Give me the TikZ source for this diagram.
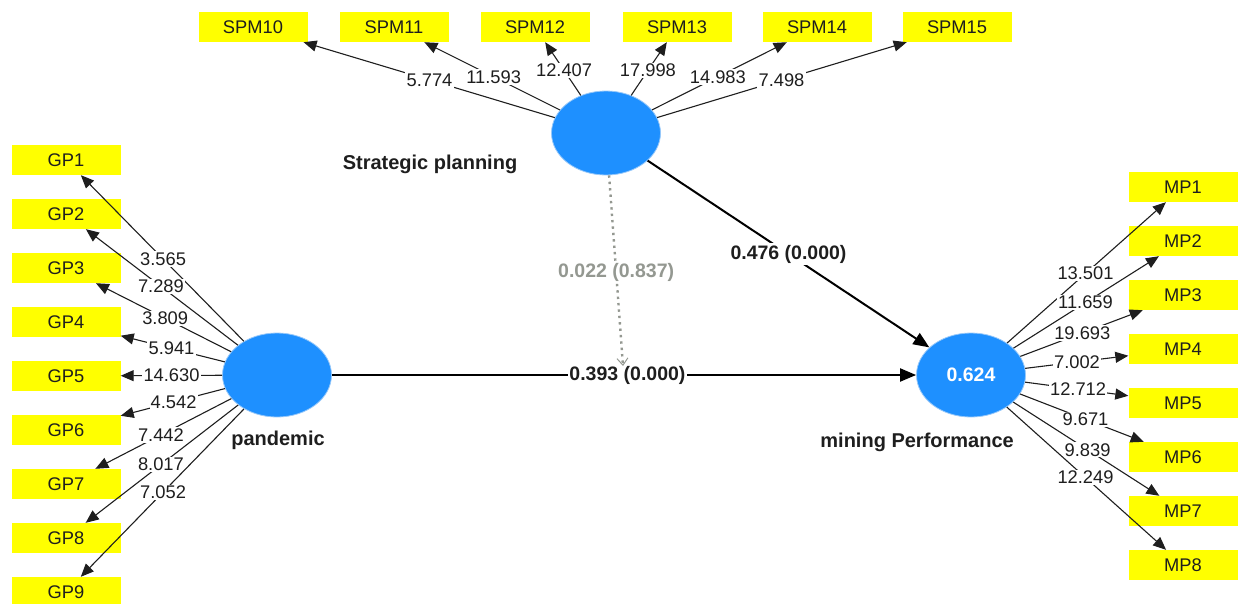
\documentclass[tikz,border=0pt]{standalone}
\usepackage{fontspec}
\setmainfont{Liberation Sans}
\usetikzlibrary{arrows.meta,calc,shapes.geometric}
\definecolor{lvblue}{RGB}{30,144,255}
\definecolor{lvring}{RGB}{150,200,250}
\definecolor{indyel}{RGB}{255,255,0}
\definecolor{txt}{RGB}{30,30,30}
\definecolor{modgray}{RGB}{148,152,145}
\begin{document}
\begin{tikzpicture}[x=1pt,y=-1pt,
  lv/.style={ellipse, fill=lvblue, draw=lvring, line width=0.8pt, minimum width=109pt, minimum height=84pt, inner sep=0pt, text=white, font=\fontsize{19.5}{21}\selectfont\bfseries},
  ind/.style={rectangle, fill=indyel, minimum width=109pt, minimum height=30pt, inner sep=0pt, font=\fontsize{18.3}{20}\selectfont, text=txt},
  load/.style={draw=txt, line width=1.1pt, -{Triangle[length=13pt,width=11pt]}},
  lbl/.style={fill=white, inner sep=1.2pt, font=\fontsize{18.3}{20}\selectfont, text=txt},
  structline/.style={draw=black, line width=2pt, -{Triangle[length=16pt,width=13pt]}},
  slbl/.style={fill=white, inner sep=1.5pt, font=\fontsize{19.5}{21}\selectfont\bfseries, text=txt},
  modline/.style={draw=modgray, line width=2.4pt, dash pattern=on 2.4pt off 4pt, -{Straight Barb[length=7pt,width=11pt,line width=1pt]}},
  mlbl/.style={fill=white, inner sep=1.5pt, font=\fontsize{19.5}{21}\selectfont\bfseries, text=modgray},
  lvname/.style={font=\fontsize{20}{22}\selectfont\bfseries, text=txt, inner sep=0pt}
]
\useasboundingbox (0,0) rectangle (1245,603);

% latent variables
\node[lv] (sp) at (606,133) {};
\node[lv] (pan) at (277,375) {};
\node[lv] (mip) at (971,375) {0.624};

\node[lvname] (spname) at (430,164) {Strategic planning};
\node[lvname] (panname) at (278,440) {pandemic};
\node[lvname, anchor=east] (mipname) at (1014,442) {mining Performance};

% indicators
\foreach \n/\x in {10/253,11/394,12/535,13/677,14/817,15/957}
  \node[ind] (spm\n) at (\x,27) {SPM\n};
\foreach \i in {1,...,9}
  \node[ind] (gp\i) at (66,{160+54*(\i-1)}) {GP\i};
\foreach \i in {1,...,8}
  \node[ind] (mp\i) at (1183,{187+54*(\i-1)}) {MP\i};

% outer loadings
\foreach \n/\v/\t in {10/5.774/0.5,11/11.593/0.53,12/12.407/0.59,13/17.998/0.59,14/14.983/0.53,15/7.498/0.5}{
  \draw[load] (sp) -- (spm\n);
  \node[lbl] (lspm\n) at ($(sp)!\t!(spm\n)$) {\v};
}
\foreach \n/\v/\t in {1/3.565/0.54,2/7.289/0.55,3/3.809/0.53,4/5.941/0.5,5/14.630/0.5,6/4.542/0.49,7/7.442/0.55,8/8.017/0.55,9/7.052/0.54}{
  \draw[load] (pan) -- (gp\n);
  \node[lbl] (lgp\n) at ($(pan)!\t!(gp\n)$) {\v};
}
\foreach \n/\v/\t in {1/13.501/0.54,2/11.659/0.54,3/19.693/0.525,4/7.002/0.5,5/12.712/0.505,6/9.671/0.54,7/9.839/0.55,8/12.249/0.54}{
  \draw[load] (mip) -- (mp\n);
  \node[lbl] (lmp\n) at ($(mip)!\t!(mp\n)$) {\v};
}

% structural paths
\draw[structline] (pan) -- (mip);
\node[slbl] (lpanmip) at ($(pan)!0.505!(mip)$) {0.393 (0.000)};
\draw[structline] (sp) -- (mip);
\node[slbl] (lspmip) at ($(sp)!0.5!(mip)$) {0.476 (0.000)};

% moderating effect
\coordinate (modend) at (623,366);
\draw[modline] (sp) -- (modend);
\node[mlbl] (lmod) at ($(sp)!0.6!(modend)$) {0.022 (0.837)};
\end{tikzpicture}
\end{document}
